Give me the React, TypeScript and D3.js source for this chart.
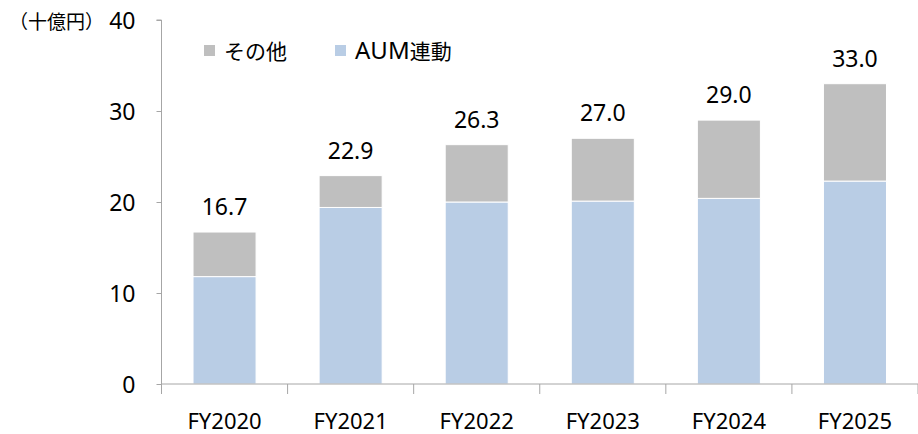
import React, { useRef, useEffect } from 'react';
import * as d3 from 'd3';

const years = ['FY2020', 'FY2021', 'FY2022', 'FY2023', 'FY2024', 'FY2025'];
const aumLinked = [11.8, 19.4, 20.0, 20.1, 20.4, 22.3];
const totals = [16.7, 22.9, 26.3, 27.0, 29.0, 33.0];
const yTicks = [0, 10, 20, 30, 40];
const seriesNames = ['その他', 'AUM連動'];
const unitLabel = '（十億円）';

const W = 918;
const H = 434;
const FONT = '"Noto Sans", "Noto Sans CJK JP", sans-serif';
const CJK = '"Noto Sans CJK JP", "Noto Sans", sans-serif';

export default function App() {
  const svgRef = useRef<SVGSVGElement>(null);

  useEffect(() => {
    if (!svgRef.current) return;
    const svg = d3.select(svgRef.current);
    svg.selectAll('*').remove();

    const margin = { top: 20, right: 0, bottom: 50, left: 161.5 };
    const innerW = W - margin.left - margin.right;
    const innerH = H - margin.top - margin.bottom;

    const x = d3.scaleBand().domain(years).range([0, innerW]).paddingInner(0.5).paddingOuter(0.25);
    const y = d3.scaleLinear().domain([0, 40]).range([innerH, 0]);

    const g = svg.append('g').attr('transform', `translate(${margin.left},${margin.top})`);

    // stacked bars: AUM連動 below, その他 on top
    const other = totals.map((t, i) => t - aumLinked[i]);
    years.forEach((yr, i) => {
      const bx = x(yr) || 0;
      g.append('rect')
        .attr('x', bx)
        .attr('y', y(aumLinked[i]))
        .attr('width', x.bandwidth())
        .attr('height', y(0) - y(aumLinked[i]))
        .attr('fill', '#B9CDE5')
        .attr('stroke', '#fff')
        .attr('stroke-width', 1);
      g.append('rect')
        .attr('x', bx)
        .attr('y', y(aumLinked[i] + other[i]))
        .attr('width', x.bandwidth())
        .attr('height', y(aumLinked[i]) - y(aumLinked[i] + other[i]))
        .attr('fill', '#BFBFBF')
        .attr('stroke', '#fff')
        .attr('stroke-width', 1);
      g.append('text')
        .attr('x', bx + x.bandwidth() / 2)
        .attr('y', y(totals[i]) - 17)
        .attr('text-anchor', 'middle')
        .attr('font-size', 23)
        .attr('font-family', FONT)
        .attr('fill', '#000')
        .text(totals[i].toFixed(1));
    });

    // y axis
    const yAxis = g.append('g')
      .call(d3.axisLeft(y).tickValues(yTicks).tickSize(5).tickPadding(21))
      .attr('font-size', 23)
      .attr('font-family', FONT);
    yAxis.select('.domain').attr('stroke', '#A6A6A6').attr('d', `M-5,${y(40)}H0V${y(0)}`);
    yAxis.selectAll('line').attr('stroke', '#A6A6A6');
    yAxis.selectAll('text').attr('fill', '#000').attr('dy', '0.38em');

    // x axis
    const xAxis = g.append('g')
      .attr('transform', `translate(0,${innerH})`)
      .call(d3.axisBottom(x).tickSize(0).tickPadding(0))
      .attr('font-size', 22)
      .attr('font-family', FONT);
    xAxis.select('.domain').attr('stroke', '#A6A6A6').attr('d', `M0,0H${innerW}`);
    xAxis.selectAll('text').attr('fill', '#000').attr('dy', null).attr('y', 45);
    const step = x.step();
    g.append('g')
      .selectAll('line')
      .data(d3.range(years.length + 1))
      .enter()
      .append('line')
      .attr('x1', d => d * step)
      .attr('x2', d => d * step)
      .attr('y1', innerH)
      .attr('y2', innerH + 10)
      .attr('stroke', '#A6A6A6');

    // unit label
    svg.append('text')
      .attr('x', 9)
      .attr('y', 29)
      .attr('font-size', 19)
      .attr('font-family', CJK)
      .attr('fill', '#000')
      .text(unitLabel);

    // legend
    const legendX = [204, 335];
    const legendColors = ['#BFBFBF', '#B9CDE5'];
    seriesNames.forEach((name, i) => {
      svg.append('rect')
        .attr('x', legendX[i])
        .attr('y', 45)
        .attr('width', 11)
        .attr('height', 11)
        .attr('fill', legendColors[i]);
      const t = svg.append('text')
        .attr('x', legendX[i] + 20)
        .attr('y', 59)
        .attr('font-size', 21)
        .attr('font-family', CJK)
        .attr('fill', '#000');
      // latin part in a wider face, kana/kanji in the CJK face
      const m = name.match(/^([A-Za-z]*)(.*)$/) || ['', '', name];
      if (m[1]) t.append('tspan').attr('font-family', FONT).attr('font-size', 24).text(m[1]);
      t.append('tspan').text(m[2]);
    });
  }, []);

  return (
    <div style={{ position: 'absolute', left: 0, top: 0 }}>
      <svg ref={svgRef} width={W} height={H} style={{ display: 'block', background: '#fff' }} />
    </div>
  );
}
